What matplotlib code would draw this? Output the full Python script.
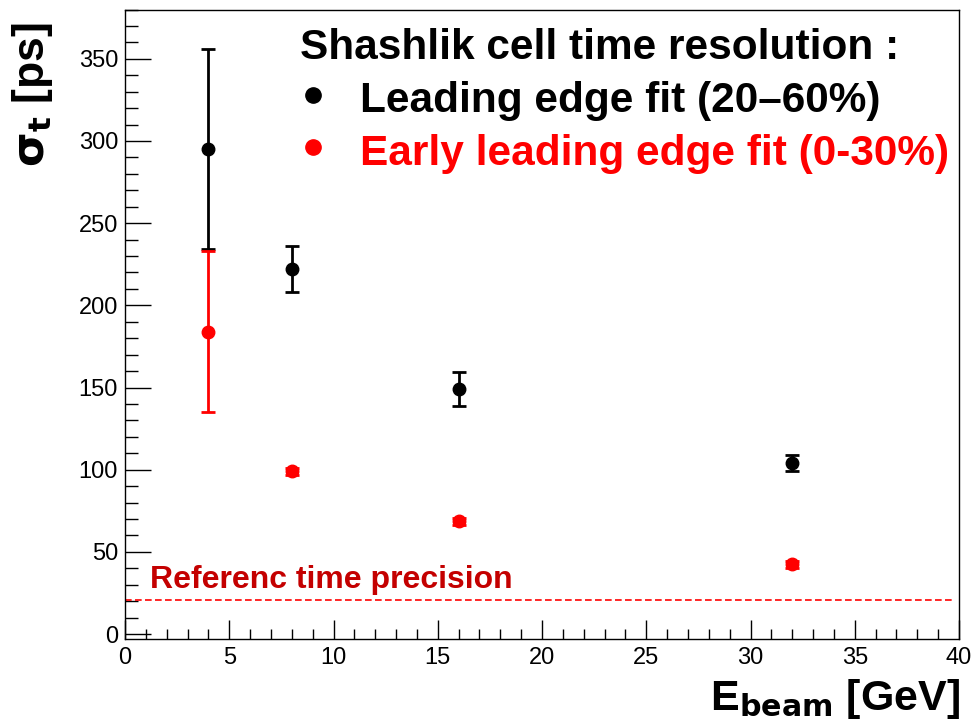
import matplotlib
matplotlib.use("Agg")
import matplotlib.pyplot as plt
from matplotlib.ticker import MultipleLocator

plt.rcParams['font.family'] = ['Liberation Sans', 'DejaVu Sans']

# Beam energies [GeV]
energy = [4, 8, 16, 32]

# Leading edge fit (20-60%) time resolution [ps]
le_sigma = [295, 222, 149, 104]
le_err = [61, 14, 10.5, 5]

# Early leading edge fit (0-30%) time resolution [ps]
ele_sigma = [184, 99, 68.5, 42.5]
ele_err = [49, 2, 2, 2]

# Reference time precision [ps]
ref_precision = 21

W, H = 973, 721
fig = plt.figure(figsize=(W / 100, H / 100), dpi=100)
ax = fig.add_axes([125 / W, (H - 639) / H, (959 - 125) / W, (639 - 9.5) / H])

ax.errorbar(energy, le_sigma, yerr=le_err, fmt='o', color='black', ms=9,
            elinewidth=2, capsize=5, capthick=2, zorder=3)
ax.errorbar(energy, ele_sigma, yerr=ele_err, fmt='o', color='#ff0000', ms=9,
            elinewidth=2, capsize=5, capthick=2, zorder=3)

ax.axhline(ref_precision, xmin=0, xmax=0.995, color='#ff0000', ls=(0, (4, 2)), lw=1.2)
ax.text(1.2, ref_precision + 2.5, 'Referenc time precision', color='#c40000',
        fontsize=23, fontweight='bold', ha='left', va='bottom')

ax.set_xlim(0, 40)
ax.set_ylim(-3, 380)
ax.xaxis.set_major_locator(MultipleLocator(5))
ax.xaxis.set_minor_locator(MultipleLocator(1))
ax.yaxis.set_major_locator(MultipleLocator(50))
ax.yaxis.set_minor_locator(MultipleLocator(10))

ax.tick_params(axis='x', which='major', direction='in', length=13.5, width=1, labelsize=17, pad=6)
ax.tick_params(axis='x', which='minor', direction='in', length=7, width=1)
ax.tick_params(axis='y', which='major', direction='in', length=18.5, width=1, labelsize=17, pad=5)
ax.tick_params(axis='y', which='minor', direction='in', length=9.5, width=1)
for s in ax.spines.values():
    s.set_linewidth(1)

fig.text(960 / W, 0 / H, r'E$_{\mathbf{beam}}$ [GeV]', ha='right', va='bottom',
         fontsize=31, fontweight='bold')
fig.text(10 / W, 1 - 22 / H, r'$\mathbf{\sigma_t}$ [ps]', ha='left', va='top',
         rotation=90, fontsize=32, fontweight='bold')

# Legend block
fig.text(300 / W, 1 - 48 / H, 'Shashlik cell time resolution :', ha='left', va='center',
         fontsize=30.5, fontweight='bold', color='black')
fig.text(360 / W, 1 - 101 / H, 'Leading edge fit (20\u201360%)', ha='left', va='center',
         fontsize=30.5, fontweight='bold', color='black')
fig.text(360 / W, 1 - 154 / H, 'Early leading edge fit (0-30%)', ha='left', va='center',
         fontsize=30.5, fontweight='bold', color='#ff0000')
fig.lines.append(plt.Line2D([313 / W], [1 - 95 / H], marker='o', ms=11, color='black',
                            transform=fig.transFigure, figure=fig))
fig.lines.append(plt.Line2D([313 / W], [1 - 147 / H], marker='o', ms=11, color='#ff0000',
                            transform=fig.transFigure, figure=fig))

fig.savefig('out.png', dpi=100)
